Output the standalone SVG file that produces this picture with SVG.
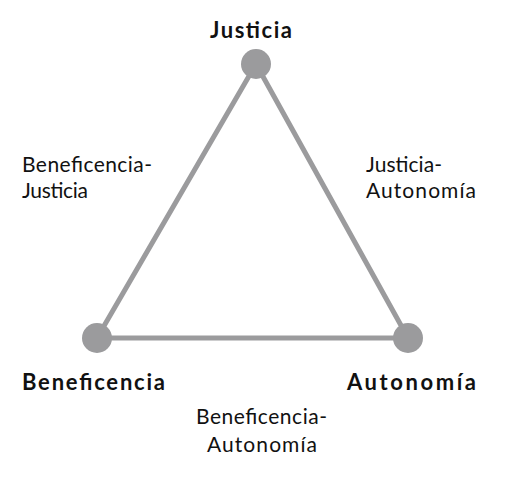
<svg xmlns="http://www.w3.org/2000/svg" width="511" height="480" viewBox="0 0 511 480">
<style>
.edge{stroke:#9b9b9d;stroke-width:5;fill:none;stroke-linecap:round}
.dot{fill:#9b9b9d}
.b{font-family:Lato,"Liberation Sans",sans-serif;font-weight:bold;font-size:22px;fill:#111}
.r{font-family:Lato,"Liberation Sans",sans-serif;font-size:21px;fill:#111}
</style>
<rect width="511" height="480" fill="#fff"/>
<g id="connectors">
<line class="edge" x1="256" y1="64" x2="97" y2="338"/>
<line class="edge" x1="256" y1="64" x2="408" y2="338"/>
<line class="edge" x1="97" y1="338" x2="408" y2="338"/>
</g>
<g id="justicia">
<circle class="dot" cx="256" cy="64" r="15"/>
<text class="b" x="210" y="38" textLength="82" lengthAdjust="spacing">Justicia</text>
</g>
<g id="beneficencia">
<circle class="dot" cx="97" cy="338" r="15"/>
<text class="b" x="22" y="390" textLength="143" lengthAdjust="spacing">Beneficencia</text>
</g>
<g id="autonomia">
<circle class="dot" cx="408" cy="338" r="15"/>
<text class="b" x="347" y="390" textLength="129" lengthAdjust="spacing">Autonomía</text>
</g>
<g id="labels">
<text class="r" x="22" y="172" textLength="130" lengthAdjust="spacing">Beneficencia-</text>
<text class="r" x="22" y="198" textLength="66" lengthAdjust="spacing">Justicia</text>
<text class="r" x="366" y="172" textLength="76" lengthAdjust="spacing">Justicia-</text>
<text class="r" x="366" y="198" textLength="110" lengthAdjust="spacing">Autonomía</text>
<text class="r" x="196" y="424" textLength="131" lengthAdjust="spacing">Beneficencia-</text>
<text class="r" x="207" y="452" textLength="110" lengthAdjust="spacing">Autonomía</text>
</g>
</svg>
